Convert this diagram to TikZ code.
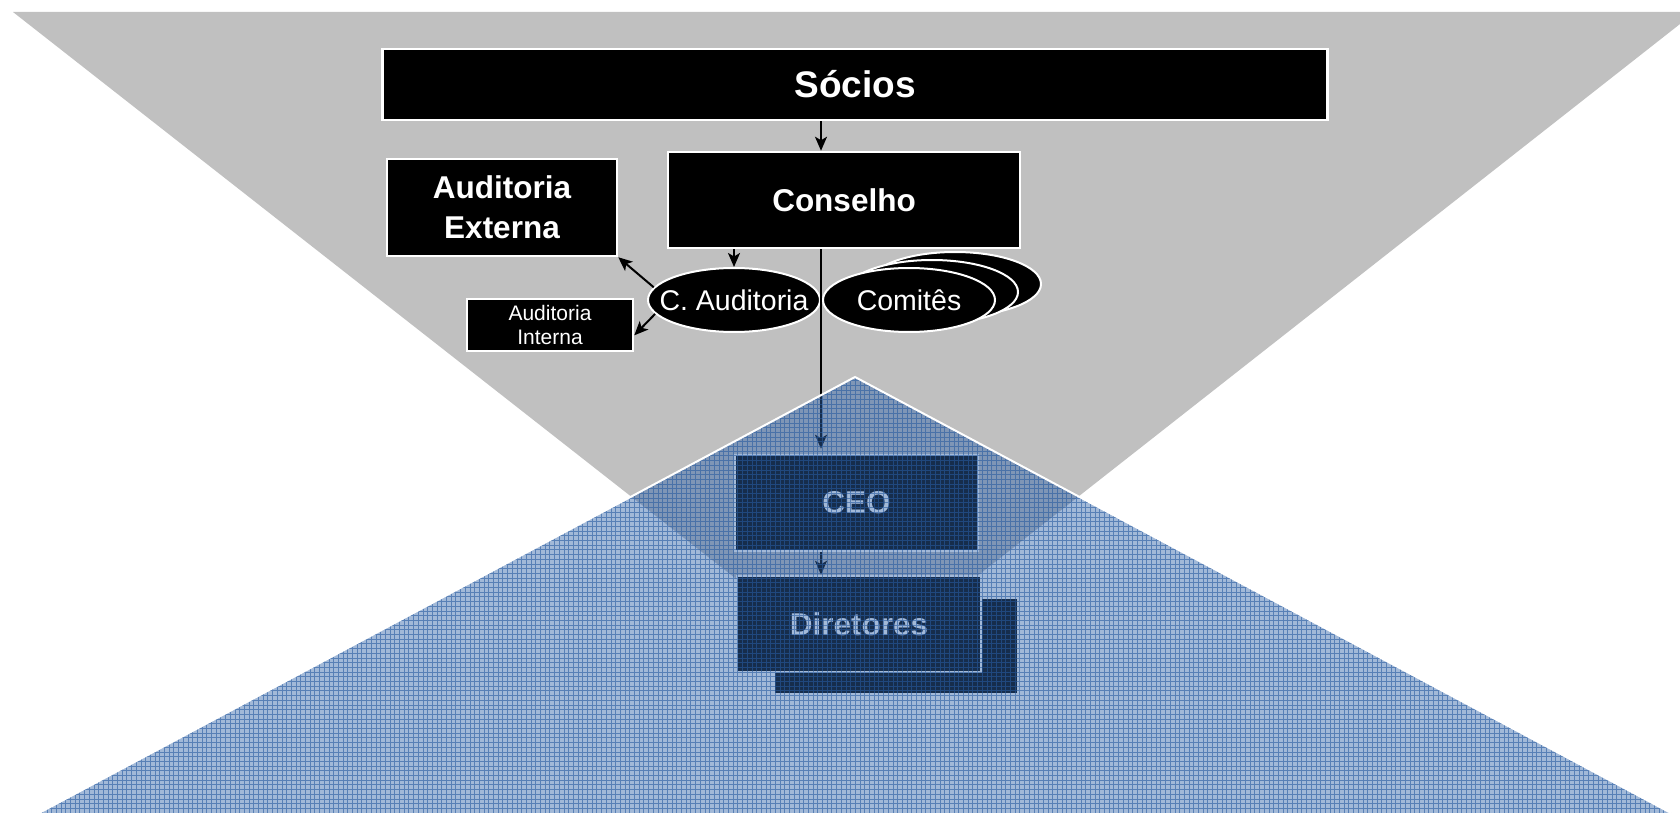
\documentclass[tikz,border=0pt]{standalone}
\usepackage{fontspec}
\setmainfont{Liberation Sans}
\usetikzlibrary{arrows.meta,shapes.geometric}
\definecolor{greybg}{RGB}{192,192,192}
\definecolor{ovfill}{RGB}{50,100,170}
\definecolor{ovline}{RGB}{40,90,160}
\begin{document}
\begin{tikzpicture}[x=1pt,y=-1pt,
  box/.style={rectangle, draw=white, line width=2.5pt, fill=black, text=white, inner sep=0pt, align=center},
  ell/.style={ellipse, draw=white, line width=2pt, fill=black, text=white, inner sep=0pt, minimum width=172pt, minimum height=64pt},
  conn/.style={line width=2pt, -{Stealth[length=14pt,width=12pt,inset=3.5pt]}},
  bigtxt/.style={font={\fontsize{37}{44}\selectfont\bfseries}},
  boldtxt/.style={font={\fontsize{31.5}{40}\selectfont\bfseries}},
  regtxt/.style={font={\fontsize{28.5}{34}\selectfont}},
  smalltxt/.style={font={\fontsize{21}{23.5}\selectfont}}]
\useasboundingbox (0,0) rectangle (1680,813);
\fill[white] (0,0) rectangle (1680,813);
% grey inverted triangle
\fill[greybg] (13,12) -- (1680,12) -- (1680,24) -- (855,672) -- cycle;

% nodes
\node[box, bigtxt, minimum width=945pt, minimum height=71pt] (socios) at (855,84.5) {Sócios};
\node[box, boldtxt, minimum width=352pt, minimum height=96pt] (conselho) at (844,200) {Conselho};
\node[box, boldtxt, minimum width=230pt, minimum height=97pt] (audext) at (502,207.5) {Auditoria\\Externa};
\node[box, smalltxt, minimum width=166pt, minimum height=52pt] (audint) at (550,325) {Auditoria\\Interna};
\node[ell, regtxt] (caud) at (734,300) {\makebox[0pt]{C. Auditoria}};
\node[ell] (com3) at (955,284) {};
\node[ell] (com2) at (932,292) {};
\node[ell, regtxt] (com1) at (909,300) {\makebox[0pt]{Comitês}};
\node[box, boldtxt, minimum width=243pt, minimum height=96pt] (ceo) at (856.5,503) {CEO};
\node[rectangle, fill=black, inner sep=0pt, minimum width=242pt, minimum height=94pt] (dir2) at (896,646) {};
\node[box, boldtxt, minimum width=244pt, minimum height=96pt] (dir) at (859,624) {Diretores};

% connectors
\coordinate (vx) at (821,0);
\draw[conn] (vx |- socios.south) -- (vx |- conselho.north);
\draw[conn] (caud.north |- conselho.south) -- (caud.north);
\draw[conn] (caud.171) -- (audext.south east);
\draw[conn] (caud.190) -- (audint.-7);
\draw[conn, shorten >=5pt] (vx |- conselho.south) -- (vx |- ceo.north);
\draw[conn] (vx |- ceo.south) -- (vx |- dir.north);

% blue patterned overlay
\begin{scope}
\clip (855,377) -- (39,813) -- (1671,813) -- cycle;
\fill[ovfill, fill opacity=0.45] (0,370) rectangle (1680,813);
\draw[ovline, draw opacity=0.6, line width=1pt] (0,370) grid[xstep=4.7pt, ystep=4.7pt] (1680,813);
\end{scope}
\draw[white, line width=2pt, line join=miter] (39,813) -- (855,377) -- (1671,813);
\end{tikzpicture}
\end{document}
